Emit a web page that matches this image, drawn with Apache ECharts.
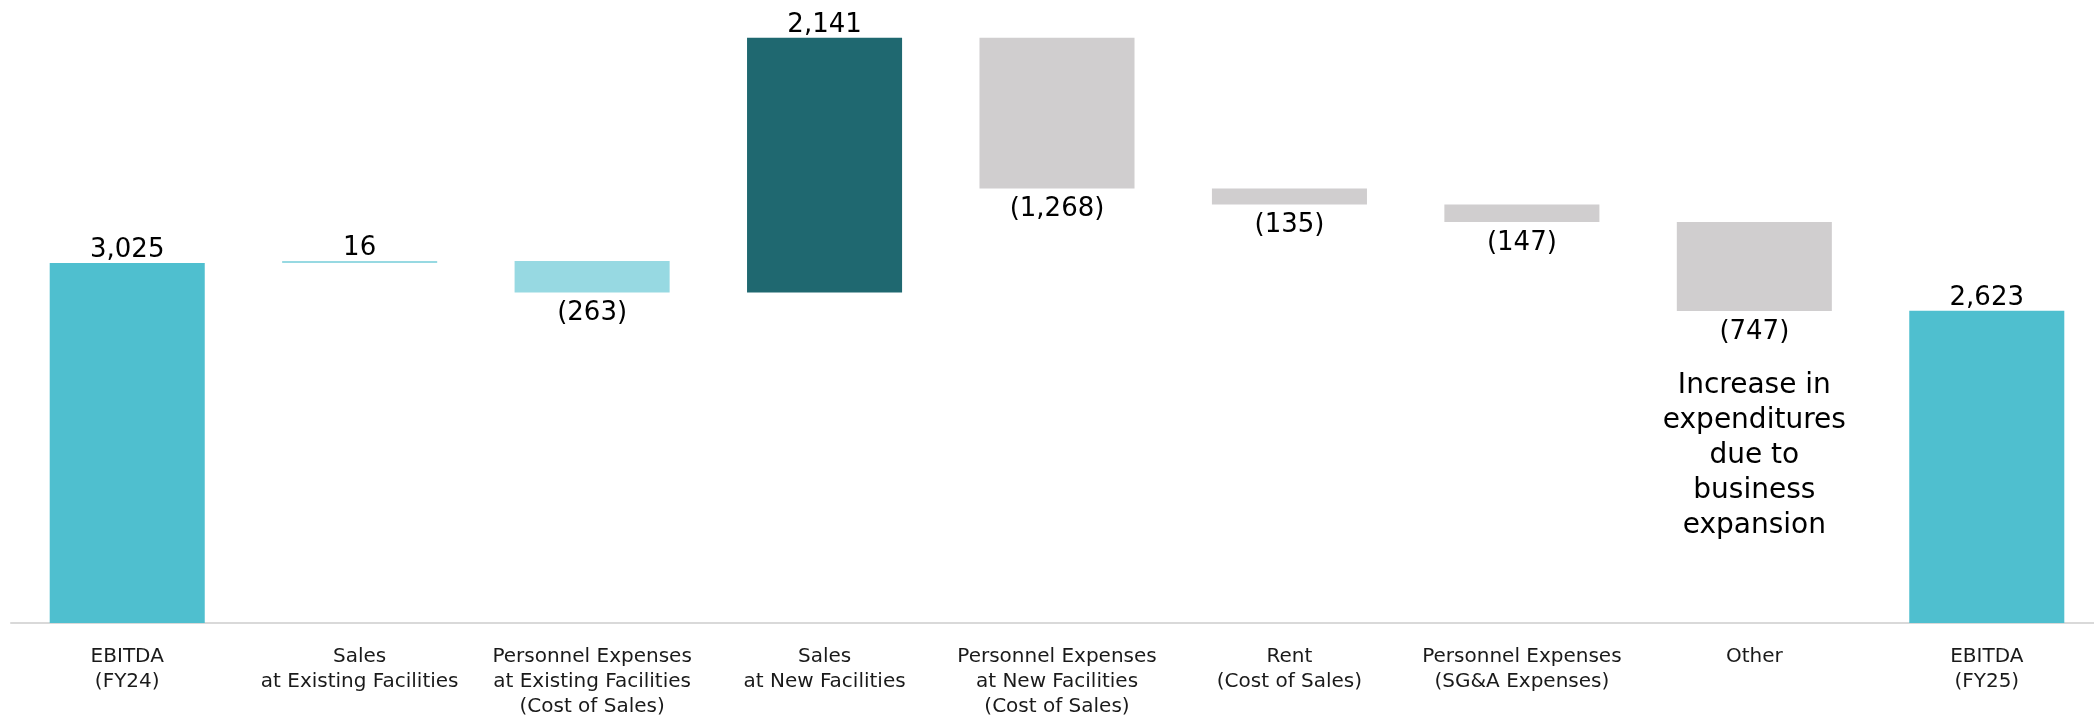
<!DOCTYPE html>
<html>
<head>
<meta charset="utf-8">
<script src="https://cdn.jsdelivr.net/npm/echarts@6/dist/echarts.min.js"></script>
<style>
  html, body { margin: 0; padding: 0; background: #ffffff; }
  #chart { width: 2094px; height: 720px; }
</style>
</head>
<body>
<div id="chart"></div>
<script>
// EBITDA bridge FY24 -> FY25 (waterfall)
const categories = [
  'EBITDA\n(FY24)',
  'Sales\nat Existing Facilities',
  'Personnel Expenses\nat Existing Facilities\n(Cost of Sales)',
  'Sales\nat New Facilities',
  'Personnel Expenses\nat New Facilities\n(Cost of Sales)',
  'Rent\n(Cost of Sales)',
  'Personnel Expenses\n(SG&A Expenses)',
  'Other',
  'EBITDA\n(FY25)'
];
// First and last entries are totals; the rest are changes
const changes = [3025, 16, -263, 2141, -1268, -135, -147, -747, 2623];
const isTotal = [true, false, false, false, false, false, false, false, true];
const noteText = ['Increase in', 'expenditures', 'due to', 'business', 'expansion'];
const noteIndex = 7;

// Colour per bar kind
const COLOR_TOTAL = '#4fbfcf';
const COLOR_EXISTING = '#97d9e2';
const COLOR_NEW_SALES = '#1f6870';
const COLOR_COST = '#d0cecf';
const barColors = [COLOR_TOTAL, COLOR_EXISTING, COLOR_EXISTING, COLOR_NEW_SALES,
  COLOR_COST, COLOR_COST, COLOR_COST, COLOR_COST, COLOR_TOTAL];

// Build invisible base + visible step for each bar
const base = [];
const step = [];
let running = 0;
changes.forEach((v, i) => {
  if (isTotal[i]) {
    base.push(0);
    step.push(v);
    running = v;
  } else if (v >= 0) {
    base.push(running);
    step.push(v);
    running += v;
  } else {
    base.push(running + v);
    step.push(-v);
    running += v;
  }
});

function fmt(v) {
  const s = Math.abs(v).toLocaleString('en-US');
  return v < 0 ? '(' + s + ')' : s;
}

const stepData = step.map((h, i) => {
  const v = changes[i];
  const item = {
    value: h,
    itemStyle: { color: barColors[i] },
    label: {
      show: true,
      position: v < 0 ? 'bottom' : 'top',
      distance: v < 0 ? 3 : 0.5,
      offset: [0, 3]
    }
  };
  if (i === noteIndex) {
    item.label.formatter = '{v|' + fmt(v) + '}\n{sp|}\n' +
      noteText.map(t => '{note|' + t + '}').join('\n');
  }
  return item;
});

const chart = echarts.init(document.getElementById('chart'), null, { renderer: 'canvas' });
chart.setOption({
  animation: false,
  backgroundColor: '#ffffff',
  textStyle: { fontFamily: 'DejaVu Sans' },
  grid: { left: 11, right: -9, top: 28, bottom: 97, containLabel: false, outerBoundsMode: 'none' },
  xAxis: {
    type: 'category',
    data: categories,
    axisLine: { show: true, lineStyle: { color: '#d9d9d9', width: 2 } },
    axisTick: { show: false },
    axisLabel: {
      interval: 0,
      margin: 21,
      fontSize: 20,
      lineHeight: 25,
      color: '#1a1a1a',
      fontFamily: 'DejaVu Sans'
    }
  },
  yAxis: {
    type: 'value',
    min: 0,
    max: 5000,
    show: false,
    splitLine: { show: false }
  },
  series: [
    {
      name: 'base',
      type: 'bar',
      stack: 'bridge',
      barCategoryGap: '33.3%',
      itemStyle: { color: 'transparent' },
      emphasis: { disabled: true },
      data: base
    },
    {
      name: 'change',
      type: 'bar',
      stack: 'bridge',
      barCategoryGap: '33.3%',
      label: {
        show: true,
        fontSize: 26,
        lineHeight: 30,
        color: '#000000',
        fontFamily: 'DejaVu Sans',
        formatter: p => fmt(changes[p.dataIndex]),
        rich: {
          v: { fontSize: 26, lineHeight: 30, color: '#000000', fontFamily: 'DejaVu Sans' },
          sp: { fontSize: 10, lineHeight: 21 },
          note: { fontSize: 28, lineHeight: 35, color: '#000000', fontFamily: 'DejaVu Sans', align: 'center' }
        }
      },
      data: stepData
    }
  ]
});
</script>
</body>
</html>
